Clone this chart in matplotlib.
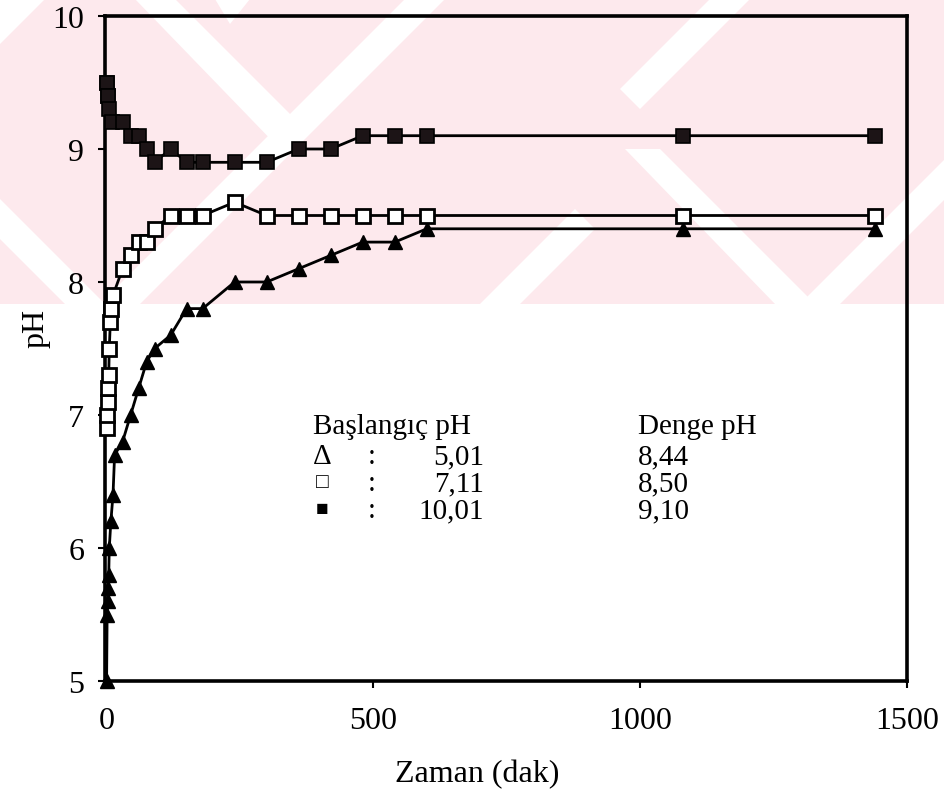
import matplotlib
matplotlib.use("Agg")
import matplotlib.pyplot as plt
from matplotlib.patches import Polygon, Rectangle

# Time (min) and pH readings for the three starting pH values
t_acid = [0, 1, 2, 3, 4, 5, 8, 12, 15, 30, 45, 60, 75, 90, 120, 150, 180,
          240, 300, 360, 420, 480, 540, 600, 1080, 1440]
ph_acid = [5.0, 5.5, 5.6, 5.7, 5.8, 6.0, 6.2, 6.4, 6.7, 6.8, 7.0, 7.2, 7.4, 7.5,
           7.6, 7.8, 7.8, 8.0, 8.0, 8.1, 8.2, 8.3, 8.3, 8.4, 8.4, 8.4]

t_neutral = [0, 1, 2, 3, 4, 5, 7, 9, 12, 30, 45, 60, 75, 90, 120, 150, 180,
             240, 300, 360, 420, 480, 540, 600, 1080, 1440]
ph_neutral = [6.9, 7.0, 7.1, 7.2, 7.3, 7.5, 7.7, 7.8, 7.9, 8.1, 8.2, 8.3, 8.3,
              8.4, 8.5, 8.5, 8.5, 8.6, 8.5, 8.5, 8.5, 8.5, 8.5, 8.5, 8.5, 8.5]

t_basic = [0, 1, 2, 3, 5, 10, 30, 45, 60, 75, 90, 120, 150, 180, 240, 300,
           360, 420, 480, 540, 600, 1080, 1440]
ph_basic = [9.5, 9.5, 9.4, 9.4, 9.3, 9.2, 9.2, 9.1, 9.1, 9.0, 8.9, 9.0, 8.9,
            8.9, 8.9, 8.9, 9.0, 9.0, 9.1, 9.1, 9.1, 9.1, 9.1]

x_ticks = [0, 500, 1000, 1500]
y_ticks = [5, 6, 7, 8, 9, 10]

legend_start = ["5,01", "7,11", "10,01"]
legend_eq = ["8,44", "8,50", "9,10"]
legend_symbols = ["\u0394", "\u25a1", "\u25a0"]

SERIF = ["Liberation Serif", "DejaVu Serif", "DejaVu Sans"]

W, H = 945, 804
fig = plt.figure(figsize=(W / 100, H / 100), dpi=100)
fig.patch.set_facecolor("white")


def fx(px):
    return px / W


def fy(py):
    return 1 - py / H


def poly(points, **kw):
    return Polygon([(fx(a), fy(b)) for a, b in points], closed=True,
                   transform=fig.transFigure, **kw)


# pale background band with diagonal stripes behind the plot
pink = "#fde9ed"
band_bottom = 305
bg = Rectangle((0, fy(band_bottom)), 1, band_bottom / H,
               transform=fig.transFigure, facecolor=pink, edgecolor="none",
               zorder=0)
fig.patches.append(bg)

stripes = [
    [(135, 0), (175, 0), (300, 125), (280, 150)],
    [(100, 305), (140, 305), (445, 0), (405, 0)],
    [(215, 0), (250, 0), (230, 25)],
    [(480, 305), (520, 305), (595, 230), (575, 210)],
    [(625, 150), (660, 150), (815, 305), (775, 305)],
    [(800, 305), (840, 305), (945, 200), (945, 160)],
    [(710, 0), (750, 0), (640, 110), (620, 90)],
    [(0, 45), (0, 0), (45, 0)],
    [(0, 200), (0, 240), (65, 305), (105, 305)],
]
for s in stripes:
    p = poly(s, facecolor="white", edgecolor="none", zorder=0.5)
    p.set_clip_path(bg)
    fig.patches.append(p)

# main axes
left, right, top, bottom = 105, 907, 17, 682
ax = fig.add_axes([fx(left), fy(bottom), (right - left) / W, (bottom - top) / H])
ax.set_zorder(2)
ax.patch.set_alpha(0)

ax.plot(t_acid, ph_acid, color="black", lw=2.0, marker="^", ms=10,
        mfc="black", mec="black", clip_on=False, zorder=3)
ax.plot(t_neutral, ph_neutral, color="black", lw=2.0, marker="s", ms=9.5,
        mfc="white", mec="black", mew=2.0, clip_on=False, zorder=4)
ax.plot(t_basic, ph_basic, color="black", lw=2.0, marker="s", ms=9.5,
        mfc="#1c1416", mec="black", mew=1.2, clip_on=False, zorder=5)

ax.set_xlim(-3, 1500)
ax.set_ylim(5, 10)
ax.set_xticks(x_ticks)
ax.set_yticks(y_ticks)
ax.set_xticklabels([str(v) for v in x_ticks], family=SERIF, fontsize=23)
ax.set_yticklabels([str(v) for v in y_ticks], family=SERIF, fontsize=23)
ax.tick_params(axis="x", direction="out", length=5, width=1.5, pad=13,
               bottom=True, top=False)
ax.tick_params(axis="y", direction="out", length=5, width=1.5, pad=10,
               left=True, right=False)
for sp in ax.spines.values():
    sp.set_linewidth(2.6)
    sp.set_color("black")

fig.text(fx(36), fy(328), "pH", rotation=90, ha="center", va="center",
         family=SERIF, fontsize=23)
fig.text(fx(477), fy(775), "Zaman (dak)", ha="center", va="center",
         family=SERIF, fontsize=23)

# key table: symbol, start pH and equilibrium pH
fs = 21
fig.text(fx(313), fy(427), "Başlangıç pH", ha="left", va="center",
         family=SERIF, fontsize=fs)
fig.text(fx(638), fy(427), "Denge pH", ha="left", va="center",
         family=SERIF, fontsize=fs)
row_y = [457, 484, 511]
for y, sym, a, b in zip(row_y, legend_symbols, legend_start, legend_eq):
    sym_fs = fs if sym == "\u0394" else 15
    fig.text(fx(322), fy(y), sym, ha="center", va="center",
             family=SERIF, fontsize=sym_fs)
    fig.text(fx(372), fy(y), ":", ha="center", va="center",
             family=SERIF, fontsize=fs)
    fig.text(fx(484), fy(y), a, ha="right", va="center",
             family=SERIF, fontsize=fs)
    fig.text(fx(638), fy(y), b, ha="left", va="center",
             family=SERIF, fontsize=fs)

fig.savefig("out.png", dpi=100)
